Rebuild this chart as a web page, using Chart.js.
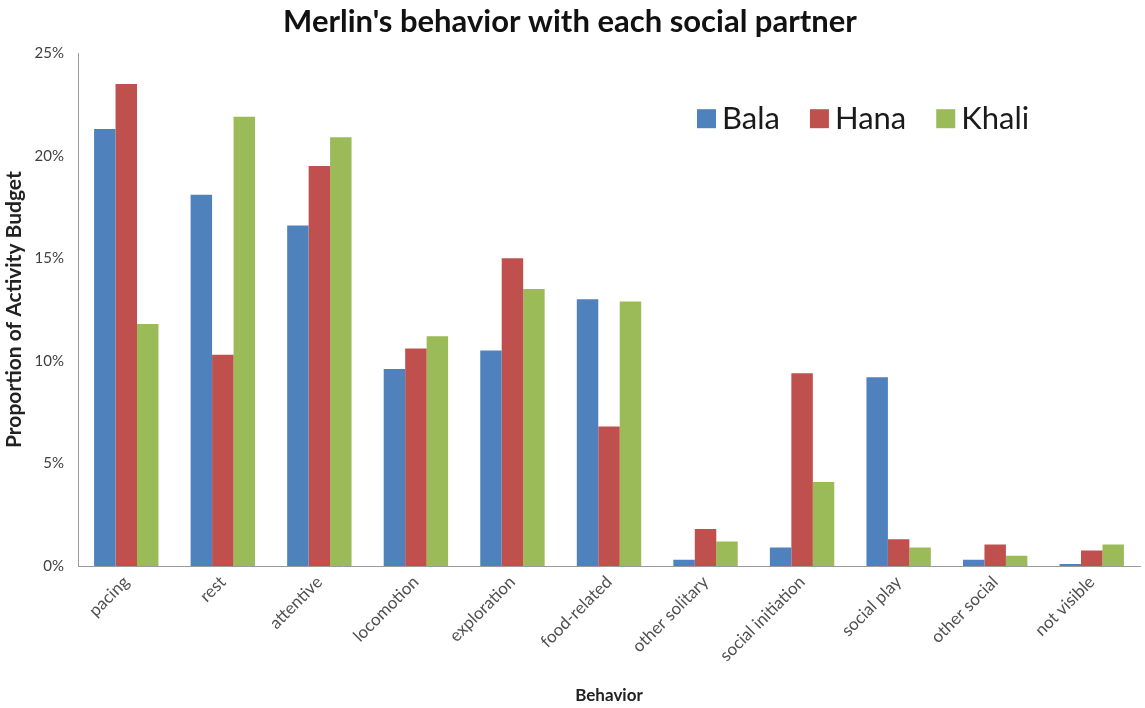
<!DOCTYPE html>
<html>
<head>
<meta charset="utf-8">
<script src="https://cdn.jsdelivr.net/npm/chart.js@4/dist/chart.umd.min.js"></script>
<style>
  html, body { margin: 0; padding: 0; background: #fff; }
  #wrap { width: 1145px; height: 708px; }
</style>
</head>
<body>
<div id="wrap"><canvas id="behavior-chart" width="1145" height="708"></canvas></div>
<script>
// Share of the activity budget (%) for each behaviour, one array per partner
const behaviors = ['pacing', 'rest', 'attentive', 'locomotion', 'exploration', 'food-related',
    'other solitary', 'social initiation', 'social play', 'other social', 'not visible'];
const bala  = [21.3, 18.1, 16.6,  9.6, 10.5, 13.0, 0.3, 0.9, 9.2, 0.3, 0.1];
const hana  = [23.5, 10.3, 19.5, 10.6, 15.0,  6.8, 1.8, 9.4, 1.3, 1.05, 0.75];
const khali = [11.8, 21.9, 20.9, 11.2, 13.5, 12.9, 1.2, 4.1, 0.9, 0.5, 1.05];
const partners = ['Bala', 'Hana', 'Khali'];
const yTicks = [0, 5, 10, 15, 20, 25];

const FONT = 'Lato, "Open Sans", sans-serif';
const colors = ['#4F81BD', '#C0504D', '#9BBB59'];

// legend drawn inside the plot, upper right
const innerLegend = {
    id: 'innerLegend',
    afterDraw(chart) {
        const ctx = chart.ctx;
        const area = chart.chartArea;
        let x = area.left + 619;
        const y = area.top + 65;
        ctx.save();
        ctx.font = '31px ' + FONT;
        ctx.textBaseline = 'middle';
        chart.data.datasets.forEach(ds => {
            ctx.fillStyle = ds.backgroundColor;
            ctx.fillRect(x, y - 9, 19, 19);
            ctx.fillStyle = '#1a1a1a';
            ctx.fillText(ds.label, x + 25, y + 1);
            x += 25 + ctx.measureText(ds.label).width + 30;
        });
        ctx.restore();
    }
};

new Chart(document.getElementById('behavior-chart'), {
    type: 'bar',
    data: {
        labels: behaviors,
        datasets: [bala, hana, khali].map((vals, i) => ({
            label: partners[i],
            data: vals,
            backgroundColor: colors[i],
            borderWidth: 0,
            categoryPercentage: 0.667,
            barPercentage: 1
        }))
    },
    options: {
        responsive: false,
        animation: false,
        layout: { padding: { left: 0, right: 5, top: 0, bottom: 2 } },
        plugins: {
            legend: { display: false },
            tooltip: { enabled: false },
            title: {
                display: true,
                text: "Merlin's behavior with each social partner",
                color: '#111',
                font: { family: FONT, size: 31, weight: 'bold' },
                padding: { top: 3, bottom: 13 }
            }
        },
        scales: {
            x: {
                afterFit: scale => { scale.height = 140; },
                grid: { display: false, drawTicks: false },
                border: { display: true, color: '#9a9a9a', width: 1 },
                ticks: {
                    color: '#505050',
                    font: { family: FONT, size: 17 },
                    minRotation: 45,
                    maxRotation: 45,
                    padding: 6
                },
                title: {
                    display: true,
                    text: 'Behavior',
                    color: '#222',
                    font: { family: FONT, size: 17, weight: 'bold' },
                    padding: { top: 6, bottom: 0 }
                }
            },
            y: {
                min: 0,
                max: 25,
                afterFit: scale => { scale.width = 78; },
                afterBuildTicks: scale => { scale.ticks = yTicks.map(v => ({ value: v })); },
                grid: { display: false, drawTicks: false },
                border: { display: true, color: '#9a9a9a', width: 1 },
                ticks: {
                    color: '#404040',
                    font: { family: FONT, size: 15 },
                    padding: 14,
                    callback: v => v + '%'
                },
                title: {
                    display: true,
                    text: 'Proportion of Activity Budget',
                    color: '#222',
                    font: { family: FONT, size: 21, weight: 'bold' },
                    padding: { top: 2, bottom: 0 }
                }
            }
        }
    },
    plugins: [innerLegend]
});
</script>
</body>
</html>
